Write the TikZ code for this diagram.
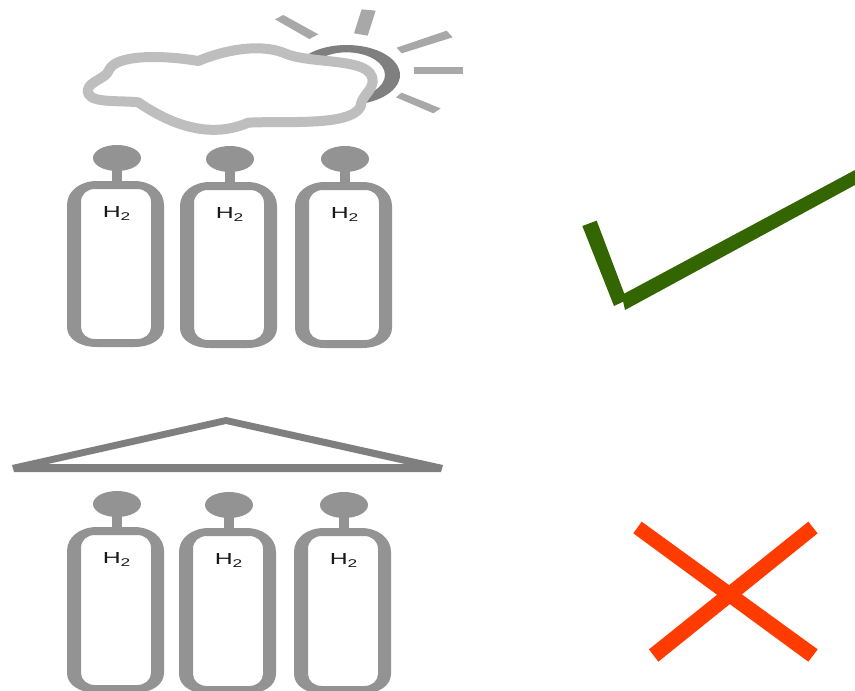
\documentclass[tikz,border=0pt]{standalone}
\usepackage{fontspec}
\setmainfont{Liberation Sans}
\definecolor{tankgray}{HTML}{939393}
\definecolor{roofgray}{HTML}{7F7F7F}
\definecolor{raygray}{HTML}{A8A8A8}
\definecolor{cloudgray}{HTML}{BEBEBE}
\definecolor{okgreen}{HTML}{336600}
\definecolor{nored}{HTML}{FF3B00}
\tikzset{
  tankfill/.style={fill=tankgray,draw=none,even odd rule},
  raypoly/.style={fill=raygray,draw=none},
  gaslabel/.style={inner sep=0pt,font=\fontsize{16}{16}\selectfont,text=black!90,xscale=1.55,yscale=1},
  okpoly/.style={fill=okgreen,draw=none},
  nopoly/.style={fill=nored,draw=none}
}
% #1 name, #2 left x, #3 top y of body, #4 ellipse centre y
\newcommand{\mytank}[4]{%
  \fill[tankfill] (#2+45,#4+9) rectangle (#2+55,#3+2);
  \fill[tankfill] (#2+50,#4) ellipse [x radius=24,y radius=13];
  \fill[tankfill]
    (#2+30,#3) -- (#2+67,#3) .. controls (#2+84,#3) and (#2+97,#3+10) .. (#2+97,#3+24)
    -- (#2+97,#3+146) .. controls (#2+97,#3+158) and (#2+84,#3+166) .. (#2+67,#3+166)
    -- (#2+30,#3+166) .. controls (#2+13,#3+166) and (#2,#3+158) .. (#2,#3+146)
    -- (#2,#3+24) .. controls (#2,#3+10) and (#2+13,#3) .. (#2+30,#3) -- cycle
    (#2+28,#3+8) -- (#2+70,#3+8) .. controls (#2+78,#3+8) and (#2+84,#3+13) .. (#2+84,#3+21)
    -- (#2+84,#3+146) .. controls (#2+84,#3+153) and (#2+78,#3+158) .. (#2+70,#3+158)
    -- (#2+28,#3+158) .. controls (#2+20,#3+158) and (#2+14,#3+153) .. (#2+14,#3+146)
    -- (#2+14,#3+21) .. controls (#2+14,#3+13) and (#2+20,#3+8) .. (#2+28,#3+8) -- cycle;
  \node[gaslabel] (#1) at (#2+50,#3+32.5) {H\textsubscript{2}};
}
\begin{document}
\begin{tikzpicture}[x=1pt,y=-1pt]
\useasboundingbox (0,0) rectangle (855,691);
\clip (0,0) rectangle (855,691);
\begin{scope}[shift={(70,0)},x=0.33333pt,y=-0.33333pt]
  \fill[raypoly] (640,45) -- (615,58) -- (718,117) -- (745,103) -- cycle;
  \fill[raypoly] (875,28) -- (917,32) -- (893,107) -- (852,100) -- cycle;
  \fill[raypoly] (1130,92) -- (1148,112) -- (995,160) -- (980,143) -- cycle;
  \fill[raypoly] (1033,201) -- (1180,201) -- (1180,222) -- (1033,222) -- cycle;
  \fill[raypoly] (995,278) -- (1112,325) -- (1090,340) -- (978,292) -- cycle;
  \fill[roofgray,even odd rule] (830,225) ellipse [x radius=160,y radius=90]
     (830,225) ellipse [x radius=115,y radius=68];
  \draw[cloudgray,line width=10pt,fill=white,line join=round]
    (54,268) .. controls (58,245) and (108,235) .. (116,212)
    .. controls (135,162) and (280,165) .. (385,183)
    .. controls (450,155) and (560,128) .. (640,158)
    .. controls (720,196) and (912,168) .. (908,245)
    .. controls (905,275) and (872,290) .. (872,320)
    .. controls (840,380) and (650,362) .. (535,368)
    .. controls (450,405) and (340,400) .. (205,307)
    .. controls (140,300) and (46,312) .. (54,268) -- cycle;
\end{scope}
\mytank{a1}{67}{181}{158}
\mytank{a2}{180}{182}{159}
\mytank{a3}{295}{182}{159}
\fill[roofgray,even odd rule] (12,465) -- (226,417) -- (443,465) -- (441,472) -- (14,472) -- cycle
  (48,464) -- (226,424) -- (405,464) -- cycle;
\mytank{b1}{67}{527}{504}
\mytank{b2}{179}{528}{505}
\mytank{b3}{294}{528}{505}
\begin{scope}[shift={(570,160)},x=0.33333pt,y=-0.33333pt]
  \fill[okpoly] (37,198) -- (80,182) -- (170,420) -- (132,438) -- cycle;
  \fill[okpoly] (855,30) -- (855,75) -- (165,450) -- (155,405) -- cycle;
\end{scope}
\begin{scope}[shift={(620,510)},x=0.33333pt,y=-0.33333pt]
  \fill[nopoly] (65,35) -- (40,70) -- (565,455) -- (593,418) -- cycle;
  \fill[nopoly] (565,35) -- (593,70) -- (115,455) -- (87,418) -- cycle;
\end{scope}
\end{tikzpicture}
\end{document}
